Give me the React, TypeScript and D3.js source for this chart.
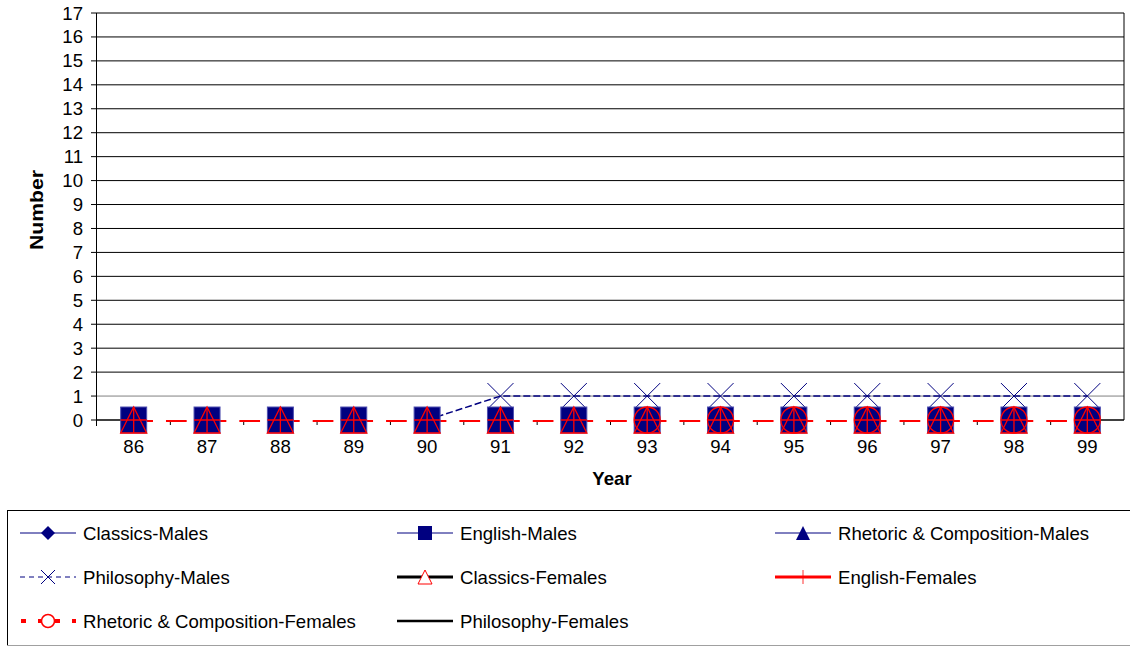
import React from "react";
import * as d3 from "d3";

const years = ["86", "87", "88", "89", "90", "91", "92", "93", "94", "95", "96", "97", "98", "99"];
const classicsMales = [0, 0, 0, 0, 0, 0, 0, 0, 0, 0, 0, 0, 0, 0];
const englishMales = [0, 0, 0, 0, 0, 0, 0, 0, 0, 0, 0, 0, 0, 0];
const rhetoricMales = [0, 0, 0, 0, 0, 0, 0, 0, 0, 0, 0, 0, 0, 0];
const philosophyMales = [0, 0, 0, 0, 0, 1, 1, 1, 1, 1, 1, 1, 1, 1];
const classicsFemales = [0, 0, 0, 0, 0, 0, 0, 0, 0, 0, 0, 0, 0, 0];
const englishFemales = [0, 0, 0, 0, 0, 0, 0, 0, 0, 0, 0, 0, 0, 0];
const rhetoricFemales: (number | null)[] = [null, null, null, null, null, null, null, 0, 0, 0, 0, 0, 0, 0];
const philosophyFemales = [0, 0, 0, 0, 0, 0, 0, 0, 0, 0, 0, 0, 0, 0];
const yTicks = d3.range(0, 18);
const legendLabels = [
  "Classics-Males",
  "English-Males",
  "Rhetoric & Composition-Males",
  "Philosophy-Males",
  "Classics-Females",
  "English-Females",
  "Rhetoric & Composition-Females",
  "Philosophy-Females",
];

const NAVY = "#000080";
const RED = "#ff0000";
const FONT = "Arial, 'Liberation Sans', sans-serif";
const FS = 18.6;

export default function App() {
  const left = 97, right = 1124, top = 13, bottom = 420;
  const x = d3.scaleBand().domain(years).range([left, right]);
  const bw = x.bandwidth();
  const cx = (i: number) => (x(years[i]) as number) + bw / 2;
  const y = d3.scaleLinear().domain([0, 17]).range([bottom, top]);
  const M = 13;

  const firstNZ = philosophyMales.findIndex((v) => v !== 0);
  const pmStart = Math.max(0, firstNZ - 1);
  const pmLine = d3
    .line<number>()
    .x((_, i) => cx(i + pmStart))
    .y((v) => y(v));
  const pmPath = pmLine(philosophyMales.slice(pmStart)) || "";

  const zeroLine = d3
    .line<number>()
    .x((_, i) => cx(i))
    .y((v) => y(v) + 1);
  const redPath = zeroLine(englishFemales) || "";

  const legendCols = [20, 397, 775];
  const legendRows = [533, 577, 621];

  const legendSymbol = (k: number, x0: number, yy: number) => {
    const x1 = x0 + 56;
    const mx = x0 + 28;
    const s = 7;
    switch (k) {
      case 0:
        return (
          <g>
            <line x1={x0} x2={x1} y1={yy} y2={yy} stroke={NAVY} strokeWidth={1} />
            <path d={`M${mx},${yy - s}L${mx + s},${yy}L${mx},${yy + s}L${mx - s},${yy}Z`} fill={NAVY} />
          </g>
        );
      case 1:
        return (
          <g>
            <line x1={x0} x2={x1} y1={yy} y2={yy} stroke={NAVY} strokeWidth={1} />
            <rect x={mx - s} y={yy - s} width={2 * s} height={2 * s} fill={NAVY} />
          </g>
        );
      case 2:
        return (
          <g>
            <line x1={x0} x2={x1} y1={yy} y2={yy} stroke={NAVY} strokeWidth={1} />
            <path d={`M${mx},${yy - s}L${mx + s},${yy + s}L${mx - s},${yy + s}Z`} fill={NAVY} />
          </g>
        );
      case 3:
        return (
          <g>
            <line x1={x0} x2={x1} y1={yy} y2={yy} stroke={NAVY} strokeWidth={1} strokeDasharray="5 4" />
            <path d={`M${mx - s},${yy - s}L${mx + s},${yy + s}M${mx + s},${yy - s}L${mx - s},${yy + s}`} stroke={NAVY} strokeWidth={1} />
          </g>
        );
      case 4:
        return (
          <g>
            <line x1={x0} x2={x1} y1={yy} y2={yy} stroke="#000" strokeWidth={3} />
            <path d={`M${mx},${yy - s}L${mx + s},${yy + s}L${mx - s},${yy + s}Z`} fill="#fff" stroke={RED} strokeWidth={1} />
          </g>
        );
      case 5:
        return (
          <g>
            <line x1={x0} x2={x1} y1={yy} y2={yy} stroke={RED} strokeWidth={3} />
            <path d={`M${mx},${yy - s}V${yy + s}M${mx - s},${yy}H${mx + s}`} stroke={RED} strokeWidth={1} opacity={0.8} />
          </g>
        );
      case 6:
        return (
          <g>
            <line x1={x0 + 1} x2={x1} y1={yy} y2={yy} stroke={RED} strokeWidth={4} strokeDasharray="5 12" />
            <circle cx={mx} cy={yy} r={6.5} fill="#fff" stroke={RED} strokeWidth={1.5} />
          </g>
        );
      default:
        return <line x1={x0} x2={x1} y1={yy} y2={yy} stroke="#000" strokeWidth={2.5} />;
    }
  };

  return (
    <svg width={1130} height={646} style={{ position: "absolute", left: 0, top: 0, fontFamily: FONT }}>
      <rect x={0} y={0} width={1130} height={646} fill="#fff" />
      {yTicks.filter((t) => t > 0).map((t) => (
        <line key={"g" + t} x1={left} x2={right} y1={y(t)} y2={y(t)} stroke={t === 1 ? "#808080" : "#000"} strokeWidth={1} />
      ))}
      <line x1={right} x2={right} y1={top} y2={bottom} stroke="#000" strokeWidth={1} />
      <line x1={left - 0.5} x2={left - 0.5} y1={top} y2={bottom + 6} stroke="#000" strokeWidth={1} />
      {yTicks.map((t) => (
        <g key={"yt" + t}>
          <line x1={left - 6} x2={left} y1={y(t)} y2={y(t)} stroke="#000" strokeWidth={1} />
          <text x={83} y={y(t)} dy="0.35em" textAnchor="end" fontSize={FS} fill="#000">
            {t}
          </text>
        </g>
      ))}
      <line x1={left} x2={cx(0)} y1={bottom} y2={bottom} stroke="#000" strokeWidth={1.5} />
      <line x1={cx(years.length - 1)} x2={right} y1={bottom} y2={bottom} stroke="#000" strokeWidth={1.5} />
      {years.slice(1).map((yr) => (
        <line key={"xt" + yr} x1={(x(yr) as number)} x2={(x(yr) as number)} y1={bottom + 1} y2={bottom + 5} stroke="#000" strokeWidth={1} />
      ))}
      {years.map((yr, i) => (
        <text key={"xl" + yr} x={cx(i)} y={452.5} textAnchor="middle" fontSize={FS} fill="#000">
          {yr}
        </text>
      ))}
      <path d={redPath} fill="none" stroke={RED} strokeWidth={2} strokeDasharray={`19.3 13 20.7 ${bw - 53}`} />
      <path d={pmPath} fill="none" stroke={NAVY} strokeWidth={1.5} strokeDasharray="7 3" />
      {classicsMales.map((v, i) => (
        <path key={"cm" + i} d={`M${cx(i)},${y(v) - M}L${cx(i) + M},${y(v)}L${cx(i)},${y(v) + M}L${cx(i) - M},${y(v)}Z`} fill={NAVY} />
      ))}
      {philosophyMales.map((v, i) => (
        <path key={"pm" + i} d={`M${cx(i) - M},${y(v) - M}L${cx(i) + M},${y(v) + M}M${cx(i) + M},${y(v) - M}L${cx(i) - M},${y(v) + M}`} stroke={NAVY} strokeWidth={1} />
      ))}
      {englishMales.map((v, i) => (
        <rect key={"em" + i} x={cx(i) - M} y={y(v) - M} width={2 * M} height={2 * M} fill={NAVY} stroke="#5050b0" strokeWidth={1} />
      ))}
      {rhetoricMales.map((v, i) => (
        <path key={"rm" + i} d={`M${cx(i)},${y(v) - M + 2}L${cx(i) + M - 2},${y(v) + M - 2}L${cx(i) - M + 2},${y(v) + M - 2}Z`} fill={NAVY} />
      ))}
      {classicsFemales.map((v, i) => (
        <path key={"cf" + i} d={`M${cx(i)},${y(v) - M}L${cx(i) + M},${y(v) + M}L${cx(i) - M},${y(v) + M}Z`} fill="none" stroke={RED} strokeWidth={1.3} />
      ))}
      {englishFemales.map((v, i) => (
        <path key={"ef" + i} d={`M${cx(i)},${y(v) - M}V${y(v) + M}M${cx(i) - M},${y(v)}H${cx(i) + M}`} stroke={RED} strokeWidth={1.3} />
      ))}
      {rhetoricFemales.map((v, i) =>
        v === null ? null : <circle key={"rf" + i} cx={cx(i)} cy={y(v)} r={M} fill="none" stroke={RED} strokeWidth={1.3} />
      )}
      <g display="none">{philosophyFemales.length}</g>
      <text x={612} y={484.5} textAnchor="middle" fontSize={FS} fontWeight="bold" fill="#000">
        Year
      </text>
      <text transform={`translate(43,210) rotate(-90)`} textAnchor="middle" fontSize={FS} fontWeight="bold" fill="#000" textLength={80} lengthAdjust="spacingAndGlyphs">
        Number
      </text>
      <line x1={7} x2={1130} y1={510.5} y2={510.5} stroke="#000" strokeWidth={1} />
      <line x1={7.5} x2={7.5} y1={510} y2={645} stroke="#000" strokeWidth={1} />
      <line x1={7} x2={1130} y1={645.5} y2={645.5} stroke="#a0a0a0" strokeWidth={1} />
      {legendLabels.map((lab, k) => {
        const col = k % 3;
        const row = Math.floor(k / 3);
        const x0 = legendCols[col];
        const yy = legendRows[row];
        return (
          <g key={"lg" + k}>
            {legendSymbol(k, x0, yy)}
            <text x={x0 + 63} y={yy} dy="0.35em" fontSize={FS} fill="#000">
              {lab}
            </text>
          </g>
        );
      })}
    </svg>
  );
}
